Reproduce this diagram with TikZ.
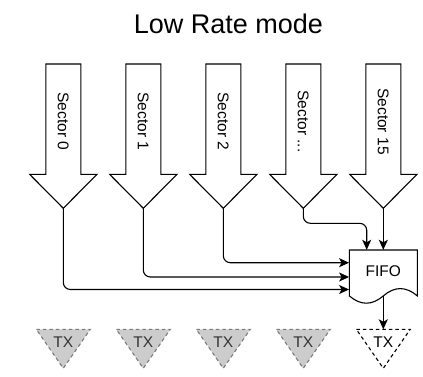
\documentclass[tikz,border=0pt]{standalone}
\usepackage{fontspec}
\setmainfont{Liberation Sans}
\usetikzlibrary{arrows.meta}
\definecolor{txfill}{HTML}{CCCCCC}
\definecolor{txline}{HTML}{7A7A7A}
\definecolor{txtext}{HTML}{333333}
\newcommand\mysecdots{...}
\begin{document}
\begin{tikzpicture}[x=1pt,y=-1pt,
  outline/.style={draw=black,line width=1.1pt,line join=miter},
  conn/.style={draw=black,line width=1.1pt,rounded corners=7pt,
    -{Stealth[length=10pt,width=9pt,inset=2.5pt]}},
  lbl/.style={font=\fontsize{15.5}{18}\selectfont,inner sep=0pt},
  txgray/.style={fill=txfill,draw=txline,line width=1.1pt,dash pattern=on 3.5pt off 3pt},
  txwhite/.style={fill=white,draw=black,line width=1.1pt,dash pattern=on 3.5pt off 3pt}]
\useasboundingbox (0,0) rectangle (423,377);

\node[font=\fontsize{27}{32}\selectfont,inner sep=0pt,anchor=base] (title) at (228.5,34) {Low Rate mode};

\foreach \i/\cx/\lab in {0/63.3/Sector 0,1/143.3/Sector 1,2/223.3/Sector 2,3/303.3/Sector \mysecdots,4/383.3/Sector 15}{
  \draw[outline] (\cx-17.5,64) -- (\cx+17.5,64) -- (\cx+17.5,174.3) -- (\cx+33.7,174.3)
     -- (\cx,208.3) -- (\cx-33.7,174.3) -- (\cx-17.5,174.3) -- cycle;
  \node[lbl,rotate=-90] (s\i) at (\cx,121.5) {\lab};
  \coordinate (tip\i) at (\cx,208.3);
  \coordinate (txtop\i) at (\cx,329.3);
}

% FIFO document shape
\node[inner sep=0pt,minimum width=68pt,minimum height=54pt] (fifo) at (383.3,277) {};
\draw[outline,fill=white] (349.3,250) -- (417.3,250) -- (417.3,295.9)
  .. controls (405.97,286.17) and (394.63,286.17) .. (383.3,295.9)
  .. controls (371.97,305.63) and (360.63,305.63) .. (349.3,295.9) -- cycle;
\node[lbl] (fifolbl) at (383.3,271) {FIFO};
\coordinate (fifoout) at (383.3,295.9);

% connectors
\draw[conn] (tip0) |- ([yshift=-12.5pt]fifo.west);
\draw[conn] (tip1) |- (fifo.west);
\draw[conn] (tip2) |- ([yshift=14.3pt]fifo.west);
\draw[conn] (tip3) -- ++(0,15) -| ([xshift=-16.6pt]fifo.north);
\draw[conn] (tip4) -- (fifo.north);

% TX triangles
\foreach \i/\cx in {0/63.3,1/143.3,2/223.3,3/303.3}{
  \draw[txgray] (\cx-27,329.3) -- (\cx+27,329.3) -- (\cx,368.3) -- cycle;
  \node[lbl,text=txtext] (tx\i) at (\cx,342.5) {TX};
}
\draw[txwhite] (383.3-27,329.3) -- (383.3+27,329.3) -- (383.3,368.3) -- cycle;
\node[lbl] (tx4) at (383.3,342.5) {TX};

\draw[conn] (fifoout) -- (txtop4);
\end{tikzpicture}
\end{document}
